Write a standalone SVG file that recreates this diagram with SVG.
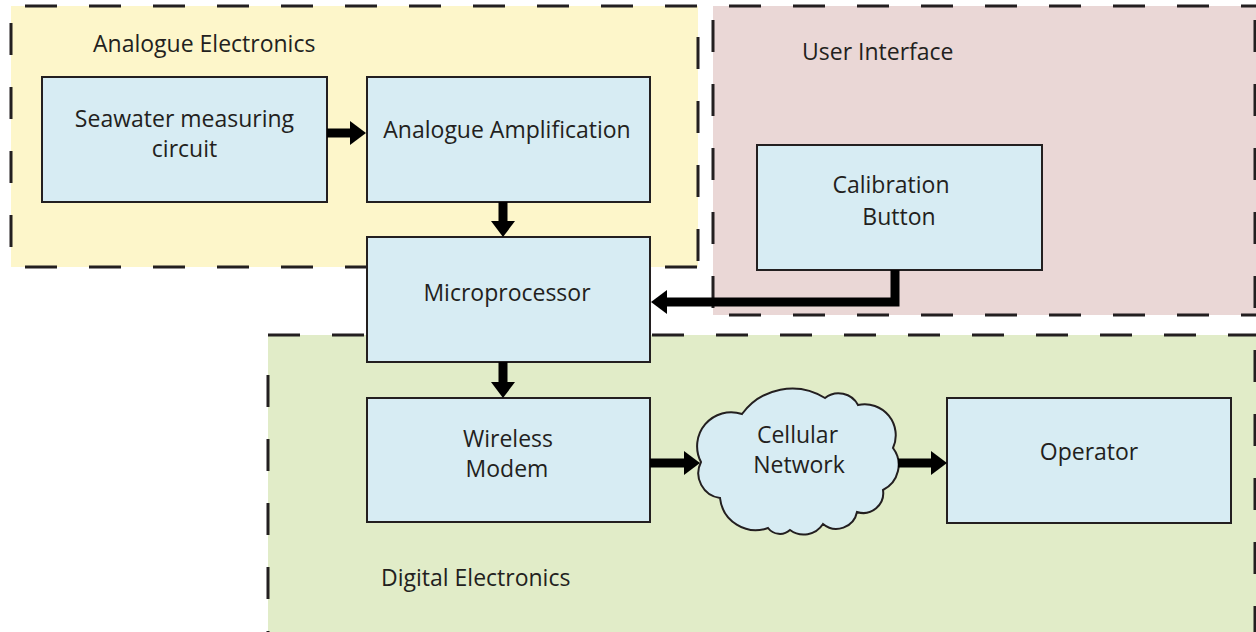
<svg xmlns="http://www.w3.org/2000/svg" width="1256" height="632" viewBox="0 0 1256 632">
  <style>
    .zone-border { fill: none; stroke: #231f20; stroke-width: 3; stroke-dasharray: 32 32; }
    .box { fill: #d7ecf3; stroke: #231f20; stroke-width: 2; }
    .label { font-family: "Open Sans", "Liberation Sans", sans-serif; font-size: 23px; fill: #231f20; }
    .mid { text-anchor: middle; }
    .conn { fill: none; stroke: #000; stroke-width: 9; stroke-linejoin: miter; marker-end: url(#head); }
  </style>
  <defs>
    <marker id="head" markerUnits="userSpaceOnUse" markerWidth="16" markerHeight="24" refX="0" refY="12" orient="auto">
      <path d="M0,0 L16,12 L0,24 Z" fill="#000"/>
    </marker>
  </defs>

  <rect width="1256" height="632" fill="#ffffff"/>

  <!-- zone backgrounds -->
  <g id="zones">
    <rect id="zone-analogue" x="11" y="6" width="687" height="261" fill="#fdf6ca"/>
    <rect id="zone-ui" x="713" y="6" width="543" height="309" fill="#ead7d6"/>
    <rect id="zone-digital" x="268" y="335" width="988" height="297" fill="#e1ecc8"/>

    <!-- dashed outlines -->
    <line class="zone-border" x1="25" y1="6" x2="698" y2="6"/>
    <line class="zone-border" x1="11" y1="23" x2="11" y2="267"/>
    <line class="zone-border" x1="25" y1="267" x2="698" y2="267"/>
    <line class="zone-border" x1="698" y1="37" x2="698" y2="267"/>

    <line class="zone-border" x1="729" y1="6" x2="1256" y2="6"/>
    <line class="zone-border" x1="713" y1="20" x2="713" y2="315"/>
    <line class="zone-border" x1="729" y1="315" x2="1256" y2="315"/>
    <line class="zone-border" x1="1255" y1="20" x2="1255" y2="315"/>

    <line class="zone-border" x1="268" y1="335" x2="1256" y2="335"/>
    <line class="zone-border" x1="268" y1="375" x2="268" y2="632"/>
    <line class="zone-border" x1="1255" y1="350" x2="1255" y2="632"/>

    <text class="label" x="93" y="52">Analogue Electronics</text>
    <text class="label" x="802" y="60">User Interface</text>
    <text class="label" x="381" y="586">Digital Electronics</text>
  </g>

  <!-- blocks -->
  <g id="seawater">
    <rect class="box" x="42" y="77" width="285" height="125"/>
    <text class="label mid" x="184.5" y="127">Seawater measuring</text>
    <text class="label mid" x="184.5" y="157">circuit</text>
  </g>
  <g id="amplification">
    <rect class="box" x="367" y="77" width="283" height="125"/>
    <text class="label mid" x="507" y="138">Analogue Amplification</text>
  </g>
  <g id="microprocessor">
    <rect class="box" x="367" y="237" width="283" height="125"/>
    <text class="label mid" x="507" y="301">Microprocessor</text>
  </g>
  <g id="calibration">
    <rect class="box" x="757" y="145" width="285" height="125"/>
    <text class="label mid" x="891" y="193">Calibration</text>
    <text class="label mid" x="899" y="225">Button</text>
  </g>
  <g id="modem">
    <rect class="box" x="367" y="398" width="283" height="124"/>
    <text class="label mid" x="508" y="447">Wireless</text>
    <text class="label mid" x="507" y="477">Modem</text>
  </g>
  <g id="network">
    <path class="box" d="M701,462 A34,34 0 0 1 742,414 A62,62 0 0 1 825,398 A22,22 0 0 1 858,405 A31,31 0 0 1 893,448 A28,28 0 0 1 883,490 A20,20 0 0 1 857,512 A21,21 0 0 1 823,524 A23,23 0 0 1 790,530 A15,15 0 0 1 768,528 A36,36 0 0 1 720,498 A25,25 0 0 1 701,462 Z"/>
    <text class="label mid" x="797.5" y="443">Cellular</text>
    <text class="label mid" x="799" y="473">Network</text>
  </g>
  <g id="operator">
    <rect class="box" x="947" y="398" width="284" height="125"/>
    <text class="label mid" x="1089" y="460">Operator</text>
  </g>

  <!-- signal flow -->
  <g id="connectors">
    <path class="conn" d="M327,133 H350"/>
    <path class="conn" d="M503,202 V221"/>
    <path class="conn" d="M503,362 V382"/>
    <path class="conn" d="M650,463 H684"/>
    <path class="conn" d="M898,463 H931"/>
    <path class="conn" d="M895,270 V302 H667"/>
  </g>
</svg>
